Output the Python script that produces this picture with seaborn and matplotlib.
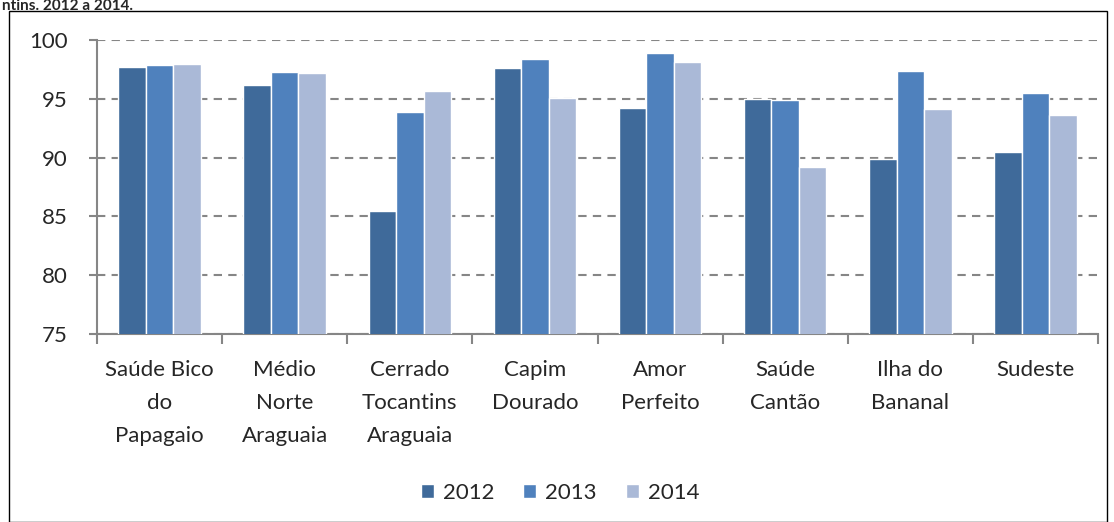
import pandas as pd
import numpy as np
import matplotlib.pyplot as plt
import seaborn as sns
from matplotlib.patches import Rectangle

# dados
regioes = ['Saúde Bico\ndo\nPapagaio', 'Médio\nNorte\nAraguaia', 'Cerrado\nTocantins\nAraguaia',
           'Capim\nDourado', 'Amor\nPerfeito', 'Saúde\nCantão', 'Ilha do\nBananal', 'Sudeste']
anos = ['2012', '2013', '2014']
v2012 = [97.7, 96.2, 85.5, 97.6, 94.2, 95.0, 89.9, 90.5]
v2013 = [97.9, 97.3, 93.9, 98.4, 98.9, 94.9, 97.4, 95.5]
v2014 = [98.0, 97.2, 95.7, 95.1, 98.1, 89.2, 94.1, 93.6]
cores = ['#3F6A9A', '#4F81BD', '#AAB9D7']

df = pd.DataFrame({
    'regiao': regioes * 3,
    'ano': np.repeat(anos, len(regioes)),
    'valor': v2012 + v2013 + v2014,
})

sns.set_style('white')
plt.rcParams['font.family'] = ['Lato', 'DejaVu Sans']

fig = plt.figure(figsize=(11.14, 5.22), dpi=100)
ax = fig.add_axes([97 / 1114, 1 - 334 / 522, (1098 - 97) / 1114, (334 - 40) / 522])

sns.barplot(
    data=df, x='regiao', y='valor', hue='ano',
    palette=cores, saturation=1, width=0.66, edgecolor='white', linewidth=1,
    ax=ax, zorder=3
)

ax.set_ylim(75, 100)
ax.set_xlim(-0.5, len(regioes) - 0.5)
ax.set_yticks(range(75, 101, 5))
ax.yaxis.grid(True, linestyle=(0, (4, 3)), color='#868686', linewidth=1.5, zorder=0)
ax.set_axisbelow(True)
ax.set_xlabel('')
ax.set_ylabel('')

for s in ['top', 'right']:
    ax.spines[s].set_visible(False)
for s in ['left', 'bottom']:
    ax.spines[s].set_color('#868686')
    ax.spines[s].set_linewidth(1.5)

ax.tick_params(axis='y', direction='out', length=6, width=1.5, color='#868686',
               left=True, labelsize=16, pad=15)
ax.tick_params(axis='x', which='major', length=0, labelsize=16, pad=19)
ax.set_xticks(np.arange(-0.5, len(regioes), 1), minor=True)
ax.tick_params(axis='x', which='minor', direction='out', length=7, width=1.5,
               color='#868686', bottom=True)
for lbl in ax.get_xticklabels():
    lbl.set_linespacing(1.8)
    lbl.set_va('top')

ax.legend(loc='center', bbox_to_anchor=(560 / 1114, 1 - 493 / 522),
          bbox_transform=fig.transFigure, ncol=3, frameon=False,
          fontsize=16, handlelength=0.6, handleheight=0.6, handletextpad=0.4,
          columnspacing=1.3)

# moldura do gráfico e título
fig.patches.append(Rectangle((9 / 1114, 0), (1107 - 9) / 1114, 1 - 11 / 522,
                             transform=fig.transFigure, fill=False,
                             edgecolor='black', linewidth=1))
fig.text(2 / 1114, 1 - 9.5 / 522, 'ntins. 2012 a 2014.', fontsize=11, fontweight='bold',
         ha='left', va='baseline')

fig.savefig('out.png', dpi=100)
